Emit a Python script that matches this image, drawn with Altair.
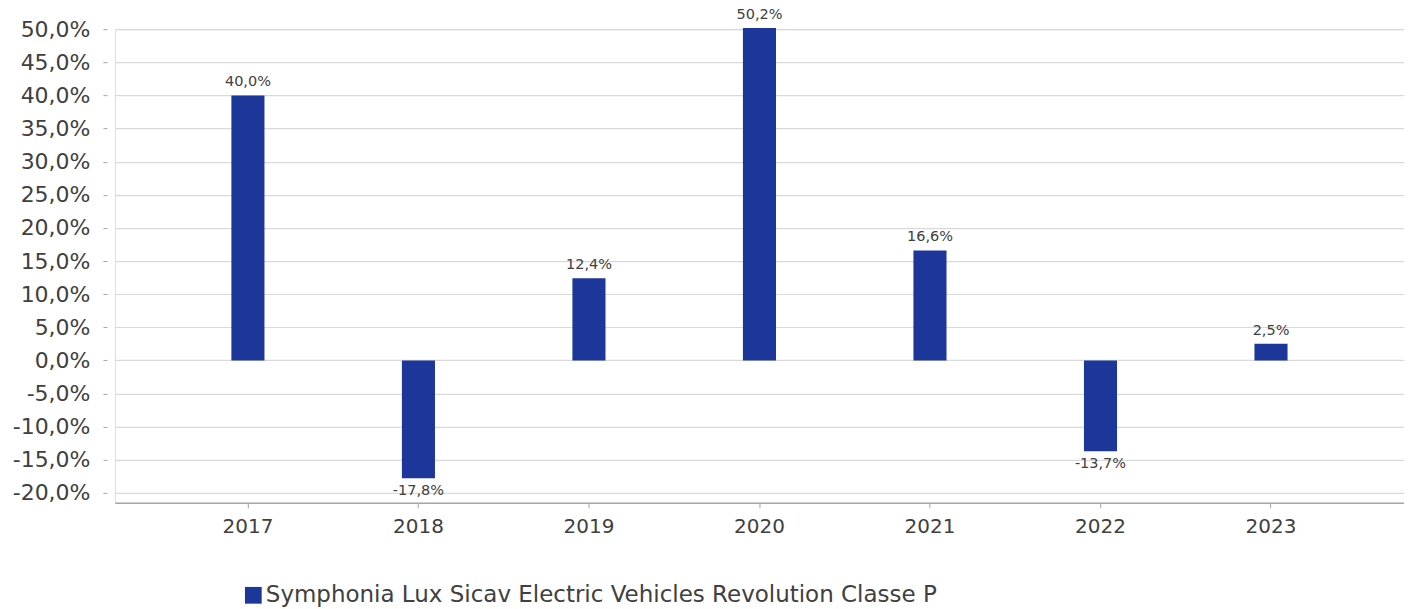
import altair as alt
import pandas as pd

years = ["2017", "2018", "2019", "2020", "2021", "2022", "2023"]
values = [40.0, -17.8, 12.4, 50.2, 16.6, -13.7, 2.5]
series = "Symphonia Lux Sicav Electric Vehicles Revolution Classe P"
y_ticks = [-20, -15, -10, -5, 0, 5, 10, 15, 20, 25, 30, 35, 40, 45, 50]

df = pd.DataFrame({
    "year": years,
    "value": values,
    "label": [f"{v:.1f}".replace(".", ",") + "%" for v in values],
    "series": [series] * len(years),
})

FONT = "DejaVu Sans"
TXT = "#404040"
BAR = "#1c3699"

xscale = alt.Scale(paddingInner=0.806, paddingOuter=0.683)
yscale = alt.Scale(domain=[-21.5, 50], nice=False, zero=False)

xaxis = alt.Axis(labelAngle=0, labelFontSize=20, labelColor=TXT, labelFont=FONT,
                 labelPadding=9, tickSize=5, tickColor="#a6a6a6", domainColor="#a6a6a6",
                 domainWidth=1.5, grid=False)
yaxis = alt.Axis(values=y_ticks, offset=8, tickSize=4, tickColor="#a6a6a6",
                 labelPadding=13, labelFontSize=22, labelColor=TXT, labelFont=FONT,
                 labelOverlap=False, labelFlush=False,
                 domain=False, gridColor="#d9d9d9", gridWidth=1.2,
                 labelExpr="(datum.value<0?'-':'') + replace(format(abs(datum.value),'.1f'),'.',',') + '%'")

x = alt.X("year:N", title=None, sort=years, scale=xscale, axis=xaxis)
y = alt.Y("value:Q", title=None, scale=yscale, axis=yaxis)

bars = alt.Chart(df).mark_bar(clip=False).encode(
    x=x, y=y,
    color=alt.Color("series:N", scale=alt.Scale(range=[BAR]),
                    legend=alt.Legend(title=None, orient="none", legendX=127, legendY=555,
                                      symbolType="square", symbolSize=280, symbolStrokeWidth=0,
                                      labelFontSize=23, labelColor=TXT, labelFont=FONT,
                                      labelLimit=1000, symbolOffset=0, labelOffset=1, padding=0)),
)

pos = alt.Chart(df).transform_filter("datum.value >= 0").mark_text(
    baseline="bottom", dy=-6, fontSize=14.5, color=TXT, font=FONT
).encode(x=x, y=y, text="label:N")

neg = alt.Chart(df).transform_filter("datum.value < 0").mark_text(
    baseline="top", dy=6, fontSize=14.5, color=TXT, font=FONT
).encode(x=x, y=y, text="label:N")

chart = alt.layer(bars, pos, neg).properties(
    width=1290, height=474,
    autosize=alt.AutoSizeParams(type="none"),
    padding={"left": 107, "top": 21, "right": 0, "bottom": 108},
).configure_view(strokeWidth=0).configure(background="white")

chart.save("out.html", embed_options={"renderer": "svg", "actions": False})
